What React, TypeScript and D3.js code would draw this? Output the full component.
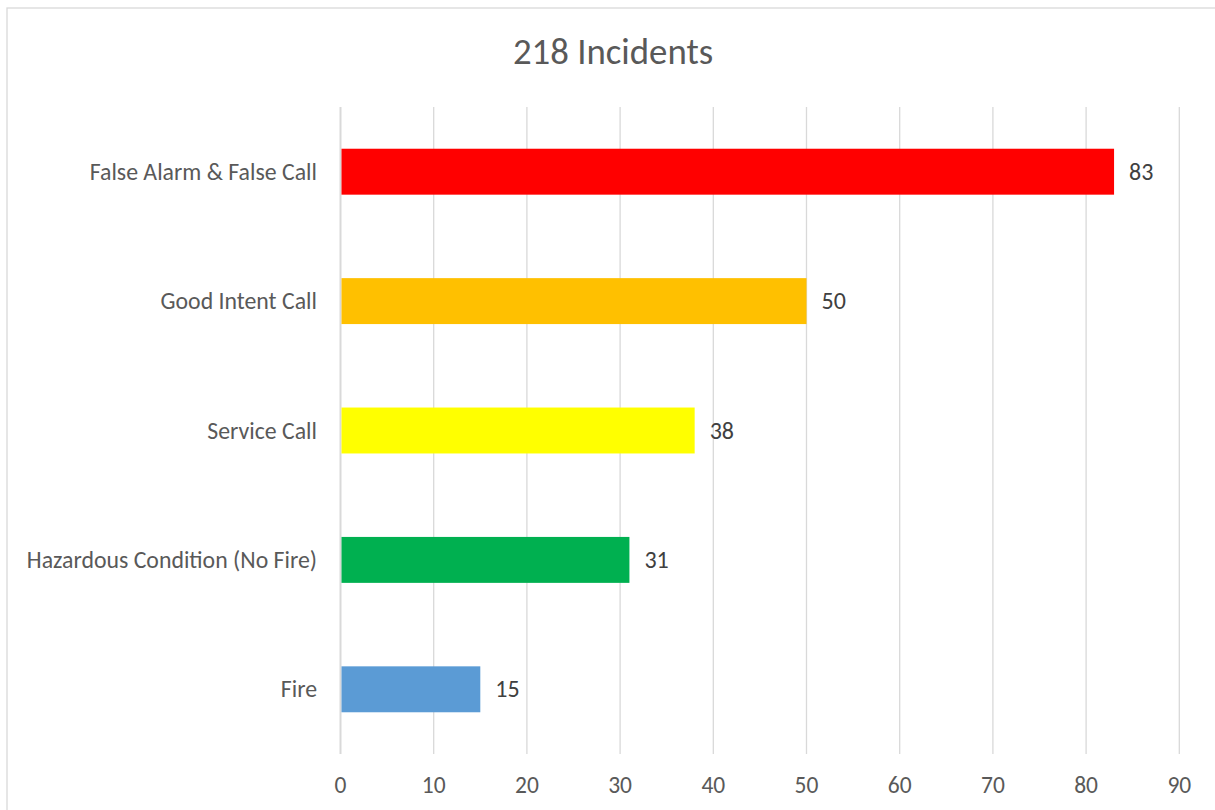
import React from "react";
import * as d3 from "d3";

const categories = [
  "False Alarm & False Call",
  "Good Intent Call",
  "Service Call",
  "Hazardous Condition (No Fire)",
  "Fire",
];
const values = [83, 50, 38, 31, 15];
const colors = ["#FF0000", "#FFC000", "#FFFF00", "#00B050", "#5B9BD5"];
const xTicks = [0, 10, 20, 30, 40, 50, 60, 70, 80, 90];
const title = "218 Incidents";

const W = 1215;
const H = 810;
const FONT = "Carlito, Calibri, Lato, 'Open Sans', sans-serif";

export default function App() {
  const x = d3.scaleLinear().domain([0, 90]).range([340.5, 1179.3]);
  const y = d3
    .scaleBand<string>()
    .domain(categories)
    .range([107, 754])
    .paddingInner(0.645)
    .paddingOuter(0.3225);

  return (
    <svg
      width={W}
      height={H}
      style={{ position: "absolute", left: 0, top: 0, background: "#fff" }}
      fontFamily={FONT}
    >
      <rect x={0} y={0} width={W} height={H} fill="#fff" />
      <rect
        x={7}
        y={8}
        width={W + 20}
        height={H + 20}
        fill="none"
        stroke="#D9D9D9"
        strokeWidth={1.3}
      />
      <text
        x={613}
        y={64}
        textAnchor="middle"
        fontSize={36.8}
        fill="#595959"
      >
        {title}
      </text>
      {xTicks.map((t) => (
        <line
          key={"g" + t}
          x1={x(t)}
          x2={x(t)}
          y1={107}
          y2={754}
          stroke="#D9D9D9"
          strokeWidth={t === 0 ? 2 : 1.3}
        />
      ))}
      {xTicks.map((t) => (
        <text
          key={"t" + t}
          x={x(t)}
          y={793}
          textAnchor="middle"
          fontSize={23.5}
          fill="#595959"
        >
          {t}
        </text>
      ))}
      {categories.map((c, i) => {
        const by = y(c)!;
        const bh = y.bandwidth();
        const cy = by + bh / 2;
        return (
          <g key={c}>
            <rect
              x={x(0) + 1}
              y={by}
              width={x(values[i]) - x(0) - 1}
              height={bh}
              fill={colors[i]}
            />
            <text
              x={317}
              y={cy + 8}
              textAnchor="end"
              fontSize={23.8}
              fill="#595959"
            >
              {c}
            </text>
            <text
              x={x(values[i]) + 15}
              y={cy + 8}
              textAnchor="start"
              fontSize={24}
              fill="#404040"
            >
              {values[i]}
            </text>
          </g>
        );
      })}
    </svg>
  );
}
